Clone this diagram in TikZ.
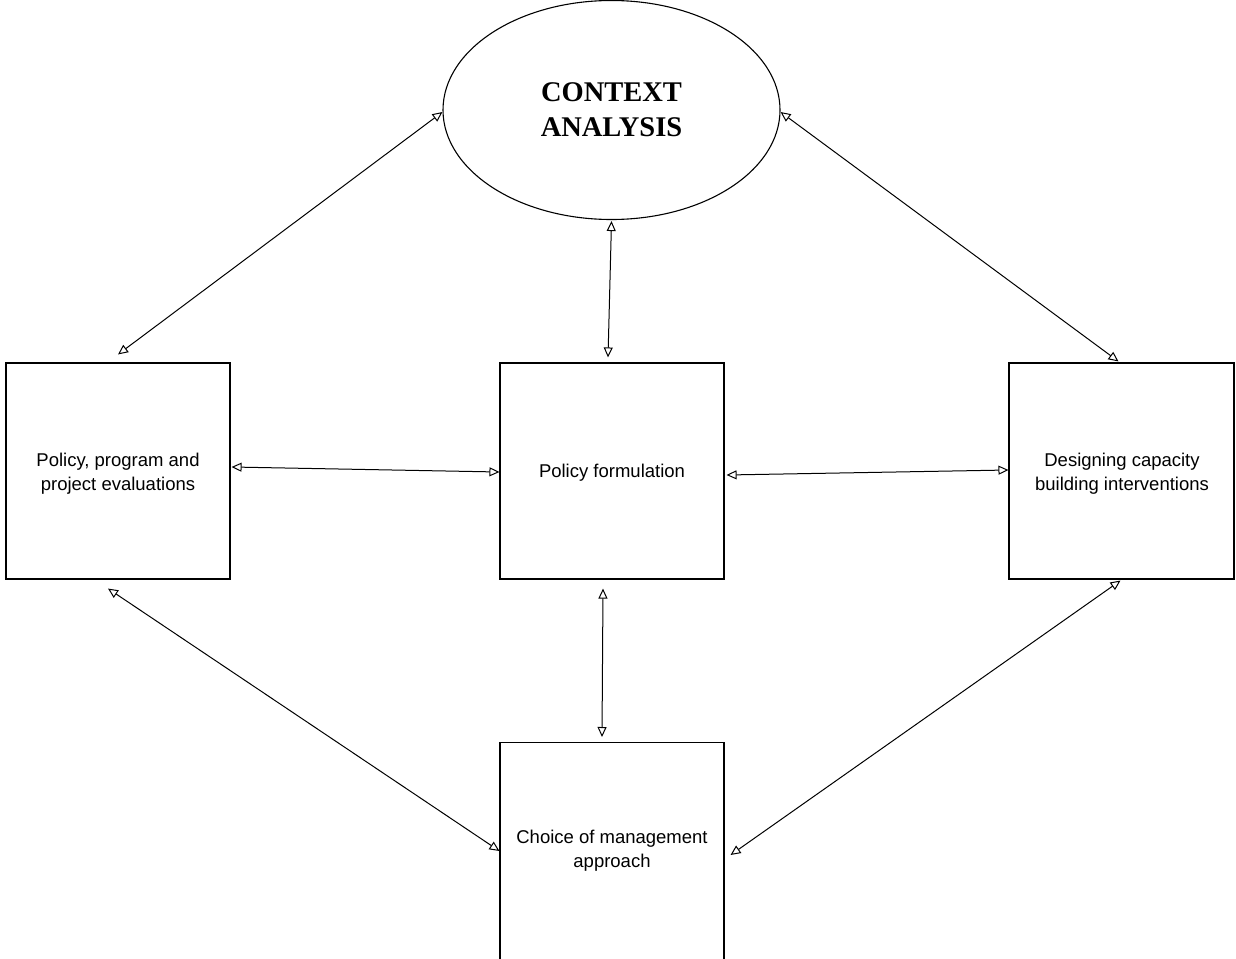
\documentclass[tikz,border=0pt]{standalone}
\usepackage{fontspec}
\setmainfont{Liberation Sans}
\newfontfamily\timesfont{Liberation Serif}
\usetikzlibrary{arrows.meta,calc,shapes.geometric}
\begin{document}
\begin{tikzpicture}[x=1pt,y=-1pt,
  box/.style={draw, line width=1.1pt, rectangle, minimum width=224pt, minimum height=216pt, inner sep=0pt},
  txt/.style={align=center, font=\fontsize{18.5}{24}\selectfont, inner sep=0pt},
  link/.style={line width=1pt, {Triangle[open,length=10pt,width=9pt]}-{Triangle[open,length=10pt,width=9pt]}}
  ]
  \clip (0,0) rectangle (1236,958);
  \fill[white] (0,0) rectangle (1236,958);
  \node[draw, ellipse, line width=1.1pt, minimum width=337pt, minimum height=219pt, inner sep=0pt,
        align=center, font=\timesfont\bfseries\fontsize{28.5}{35}\selectfont] (E) at (611.5,110) {CONTEXT\\ANALYSIS};
  \node[box] (L) at (118,471) {};
  \node[txt] (Lt) at (118,474) {Policy, program and\\project evaluations};
  \node[box] (C) at (612,471) {};
  \node[txt] (Ct) at (612,473) {Policy formulation};
  \node[box, minimum width=225pt] (R) at (1121.5,471) {};
  \node[txt] (Rt) at (1122,474) {Designing capacity\\building interventions};
  \node[box, minimum height=240pt, anchor=north] (B) at (612,742) {};
  \node[txt] (Bt) at (612,851) {Choice of management\\approach};

  \draw[link] ($(L.north)+(0,-8)$) -- ($(E.west)+(0,2)$);
  \draw[link] ($(E.east)+(0,2)$) -- ($(R.north)+(-3,-1)$);
  \draw[link] ($(E.south)+(0,1)$) -- ($(C.north)+(-4,-5)$);
  \draw[link] ($(L.east)+(1,-4)$) -- ($(C.west)+(0,1)$);
  \draw[link] ($(C.east)+(2,4)$) -- ($(R.west)+(0,-1)$);
  \draw[link] ($(C.south)+(-9,9)$) -- ($(B.north)+(-10,-5)$);
  \draw[link] ($(L.south)+(-10,9)$) -- ($(B.north west)+(0,109)$);
  \draw[link] ($(R.south)+(-1,1)$) -- ($(B.north east)+(6,113)$);
\end{tikzpicture}
\end{document}
